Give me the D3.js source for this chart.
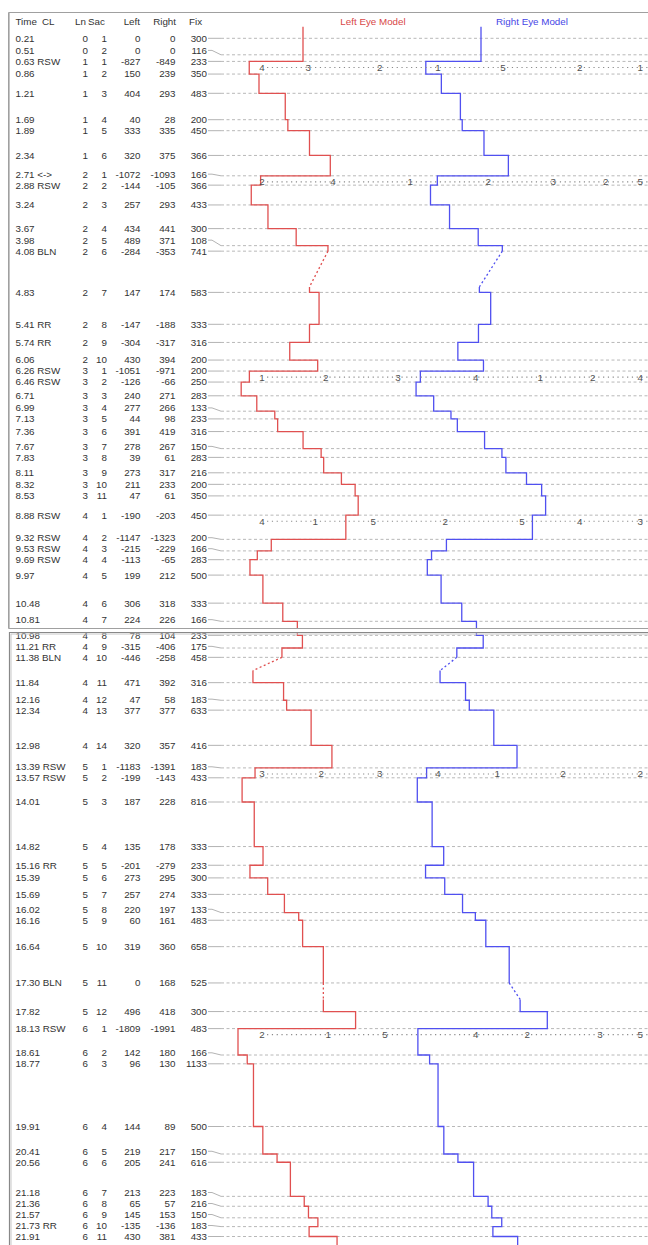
<!DOCTYPE html>
<html>
<head>
<meta charset="utf-8">
<script src="https://cdn.jsdelivr.net/npm/d3@7"></script>
<style>
  body { margin: 0; background: #fff; }
  svg { display: block; }
  text { font-family: "Liberation Sans", Arial, sans-serif; font-size: 9.8px; fill: #333; }
</style>
</head>
<body>
<svg id="chart" width="648" height="1245"></svg>
<script>
// Fixation log: start time (s), code, text line, saccade number,
// left / right saccade amplitudes and fixation duration (ms)
const rowTime = [0.21, 0.51, 0.63, 0.86, 1.21, 1.69, 1.89, 2.34, 2.71, 2.88, 3.24, 3.67, 3.98, 4.08, 4.83, 5.41, 5.74, 6.06,
  6.26, 6.46, 6.71, 6.99, 7.13, 7.36, 7.67, 7.83, 8.11, 8.32, 8.53, 8.88, 9.32, 9.53, 9.69, 9.97, 10.48, 10.81,
  10.98, 11.21, 11.38, 11.84, 12.16, 12.34, 12.98, 13.39, 13.57, 14.01, 14.82, 15.16, 15.39, 15.69, 16.02, 16.16,
  16.64, 17.30, 17.82, 18.13, 18.61, 18.77, 19.91, 20.41, 20.56, 21.18, 21.36, 21.57, 21.73, 21.91];
const rowCode = ["", "", "RSW", "", "", "", "", "", "<->", "RSW", "", "", "", "BLN", "", "RR", "RR", "",
  "RSW", "RSW", "", "", "", "", "", "", "", "", "", "RSW", "RSW", "RSW", "RSW", "", "", "",
  "", "RR", "BLN", "", "", "", "", "RSW", "RSW", "", "", "RR", "", "", "", "",
  "", "BLN", "", "RSW", "", "", "", "", "", "", "", "", "RR", ""];
const rowLine = [0, 0, 1, 1, 1, 1, 1, 1, 2, 2, 2, 2, 2, 2, 2, 2, 2, 2,
  3, 3, 3, 3, 3, 3, 3, 3, 3, 3, 3, 4, 4, 4, 4, 4, 4, 4,
  4, 4, 4, 4, 4, 4, 4, 5, 5, 5, 5, 5, 5, 5, 5, 5,
  5, 5, 5, 6, 6, 6, 6, 6, 6, 6, 6, 6, 6, 6];
const rowSac = [1, 2, 1, 2, 3, 4, 5, 6, 1, 2, 3, 4, 5, 6, 7, 8, 9, 10,
  1, 2, 3, 4, 5, 6, 7, 8, 9, 10, 11, 1, 2, 3, 4, 5, 6, 7,
  8, 9, 10, 11, 12, 13, 14, 1, 2, 3, 4, 5, 6, 7, 8, 9,
  10, 11, 12, 1, 2, 3, 4, 5, 6, 7, 8, 9, 10, 11];
const leftSac = [0, 0, -827, 150, 404, 40, 333, 320, -1072, -144, 257, 434, 489, -284, 147, -147, -304, 430,
  -1051, -126, 240, 277, 44, 391, 278, 39, 273, 211, 47, -190, -1147, -215, -113, 199, 306, 224,
  78, -315, -446, 471, 47, 377, 320, -1183, -199, 187, 135, -201, 273, 257, 220, 60,
  319, 0, 496, -1809, 142, 96, 144, 219, 205, 213, 65, 145, -135, 430];
const rightSac = [0, 0, -849, 239, 293, 28, 335, 375, -1093, -105, 293, 441, 371, -353, 174, -188, -317, 394,
  -971, -66, 271, 266, 98, 419, 267, 61, 317, 233, 61, -203, -1323, -229, -65, 212, 318, 226,
  104, -406, -258, 392, 58, 377, 357, -1391, -143, 228, 178, -279, 295, 274, 197, 161,
  360, 168, 418, -1991, 180, 130, 89, 217, 241, 223, 57, 153, -136, 381];
const fixDur = [300, 116, 233, 350, 483, 200, 450, 366, 166, 366, 433, 300, 108, 741, 583, 333, 316, 200,
  200, 250, 283, 133, 233, 316, 150, 283, 216, 200, 350, 450, 200, 166, 283, 500, 333, 166,
  233, 175, 458, 316, 183, 633, 416, 183, 433, 816, 333, 233, 300, 333, 133, 483,
  658, 525, 300, 483, 166, 1133, 500, 150, 616, 183, 216, 150, 183, 433];
// time (s) the eye position drifts while the lids are closed, one per BLN row
const blinkSpan = [0.65, 0.24, 0.30];

// word markers shown on the first fixation of each new text line
const leftMarks = [[4, 3, 2], [2, 4, 1], [1, 2, 3], [4, 1, 5], [3, 2, 3], [2, 1, 5]];
const leftMarkPos = [[-630, 80, 1180], [-630, 460, 1650], [-630, 350, 1460], [-630, 190, 1080], [-630, 280, 1180], [-630, 390, 1260]];
const rightMarks = [[1, 5, 2, 1], [2, 3, 2, 5], [4, 1, 2, 4], [2, 5, 4, 3], [4, 1, 2, 2], [4, 2, 3, 5]];
const rightMarkPos = [[-660, 340, 1520, 2450], [110, 1110, 1920, 2450], [-80, 910, 1720, 2450], [-550, 630, 1520, 2450], [-660, 250, 1260, 2450], [-80, 710, 1830, 2450]];

const headers = ["Time", "CL", "Ln", "Sac", "Left", "Right", "Fix"];
const modelTitles = ["Left Eye Model", "Right Eye Model"];

const W = 648, H = 1245;
const svg = d3.select("#chart");

const xLeft = d3.scaleLinear().domain([-1000, 1000]).range([238, 368]);
const xRight = d3.scaleLinear().domain([-1000, 1000]).range([416, 546]);
const cumLeft = Array.from(d3.cumsum(leftSac));
const cumRight = Array.from(d3.cumsum(rightSac));

// two stacked views of the same time axis
const panels = [
  { top: 12, bottom: 628, y: d3.scaleLinear().domain([0, 11]).range([26.75, 26.75 + 55 * 11]), header: true },
  { top: 632, bottom: H, y: d3.scaleLinear().domain([11, 22]).range([31.45 + 55 * 11, 31.45 + 55 * 22]), header: false }
];

// labels keep a minimum spacing; crowded ones move up and get a slanted leader
function layoutLabels(ys, gap) {
  const out = ys.slice();
  for (let i = ys.length - 2; i >= 0; i--) out[i] = Math.min(ys[i], out[i + 1] - gap);
  return out;
}

function tracePaths(cum, x, y) {
  const solid = d3.path(), dotted = d3.path();
  solid.moveTo(x(0), y(0));
  let bi = 0;
  rowTime.forEach((t, i) => {
    const xp = i ? x(cum[i - 1]) : x(0), xn = x(cum[i]);
    if (rowCode[i] === "BLN") {
      const t2 = t + blinkSpan[bi++];
      solid.lineTo(xp, y(t));
      dotted.moveTo(xp, y(t));
      dotted.lineTo(xn, y(t2));
      solid.moveTo(xn, y(t2));
    } else {
      solid.lineTo(xp, y(t));
      solid.lineTo(xn, y(t));
    }
  });
  const last = rowTime.length - 1;
  solid.lineTo(x(cum[last]), y(rowTime[last] + fixDur[last] / 1000));
  return { solid: solid.toString(), dotted: dotted.toString() };
}

const lineStarts = rowTime.map((t, i) => i).filter(i => rowSac[i] === 1 && rowLine[i] > 0);

panels.forEach((p, pi) => {
  const clipId = "clip" + pi;
  svg.append("clipPath").attr("id", clipId)
    .append("rect").attr("x", 0).attr("y", p.top).attr("width", W).attr("height", p.bottom - p.top);
  const g = svg.append("g").attr("clip-path", `url(#${clipId})`);
  const y = p.y;
  const trueY = rowTime.map(t => y(t));
  const labY = layoutLabels(trueY, 11);
  // only the rows that fall (at least partly) inside this view
  const visible = rowTime.map((t, i) => i)
    .filter(i => labY[i] > p.top - 5 && labY[i] < p.bottom + 5);

  // row leaders and dashed guides
  const guides = g.append("g");
  visible.forEach(i => {
    guides.append("path")
      .attr("d", `M208,${labY[i]}L212,${labY[i]}L221,${trueY[i]}`)
      .attr("fill", "none").attr("stroke", "#aaa").attr("stroke-width", 0.9);
    guides.append("line")
      .attr("x1", 221).attr("x2", W).attr("y1", trueY[i]).attr("y2", trueY[i])
      .attr("stroke", "#b8b8b8").attr("stroke-width", 1).attr("stroke-dasharray", "3,2.5");
  });

  // table rows
  const rows = g.append("g");
  const cols = [
    { x: 15.5, anchor: "start", v: i => rowTime[i].toFixed(2) + (rowCode[i] ? " " + rowCode[i] : "") },
    { x: 88, anchor: "end", v: i => rowLine[i] },
    { x: 107, anchor: "end", v: i => rowSac[i] },
    { x: 140.5, anchor: "end", v: i => leftSac[i] },
    { x: 175.5, anchor: "end", v: i => rightSac[i] },
    { x: 207, anchor: "end", v: i => fixDur[i] }
  ];
  cols.forEach(c => {
    rows.selectAll(null).data(visible).join("text")
      .attr("x", c.x).attr("y", i => labY[i]).attr("dy", "0.35em")
      .attr("text-anchor", c.anchor).text(c.v);
  });

  // eye traces
  [[cumLeft, xLeft, "#e05050"], [cumRight, xRight, "#5050f0"]].forEach(([cum, x, col]) => {
    const tp = tracePaths(cum, x, y);
    g.append("path").attr("d", tp.solid).attr("fill", "none")
      .attr("stroke", col).attr("stroke-width", 1.3).attr("stroke-linejoin", "miter");
    g.append("path").attr("d", tp.dotted).attr("fill", "none")
      .attr("stroke", col).attr("stroke-width", 1.3).attr("stroke-dasharray", "2,2.5");
  });

  // word markers for each new line
  lineStarts.forEach((ri, k) => {
    const my = y(rowTime[ri] + 0.11);
    if (my < p.top - 5 || my > p.bottom + 5) return;
    g.append("line").attr("x1", xLeft(leftMarkPos[k][0]) + 5).attr("x2", W)
      .attr("y1", my).attr("y2", my)
      .attr("stroke", "#8a8a8a").attr("stroke-width", 1.1).attr("stroke-dasharray", "1.2,3.6");
    const marks = leftMarks[k].map((m, j) => ({ m, x: xLeft(leftMarkPos[k][j]) }))
      .concat(rightMarks[k].map((m, j) => ({ m, x: xRight(rightMarkPos[k][j]) })));
    g.selectAll(null).data(marks).join("text")
      .attr("x", d => d.x).attr("y", my).attr("dy", "0.35em")
      .attr("text-anchor", "middle").style("fill", "#505050").text(d => d.m);
  });

  if (p.header) {
    const hx = [[15.5, "start"], [42, "start"], [75, "start"], [88, "start"], [140, "end"], [176, "end"], [189, "start"]];
    g.selectAll(null).data(headers).join("text")
      .attr("x", (d, i) => hx[i][0]).attr("y", 22).attr("dy", "0.35em")
      .attr("text-anchor", (d, i) => hx[i][1]).text(d => d);
    g.append("text").attr("x", 373).attr("y", 22).attr("dy", "0.35em").attr("text-anchor", "middle")
      .style("fill", "#d84848").text(modelTitles[0]);
    g.append("text").attr("x", 532).attr("y", 22).attr("dy", "0.35em").attr("text-anchor", "middle")
      .style("fill", "#4646e6").text(modelTitles[1]);
  }
});

// panel frames
svg.append("path").attr("d", `M${W},12.5H8.5V628.5H${W}`).attr("fill", "none")
  .attr("stroke", "#a0a0a0").attr("stroke-width", 1);
svg.append("line").attr("x1", 9.5).attr("x2", 9.5).attr("y1", 13).attr("y2", 628)
  .attr("stroke", "#c4c4c4").attr("stroke-width", 1);
svg.append("path").attr("d", `M${W},632.5H9.5V${H}`).attr("fill", "none")
  .attr("stroke", "#888").attr("stroke-width", 1.2);
svg.append("path").attr("d", `M${W},634H11V${H}`).attr("fill", "none")
  .attr("stroke", "#c8c8c8").attr("stroke-width", 1);
</script>
</body>
</html>
